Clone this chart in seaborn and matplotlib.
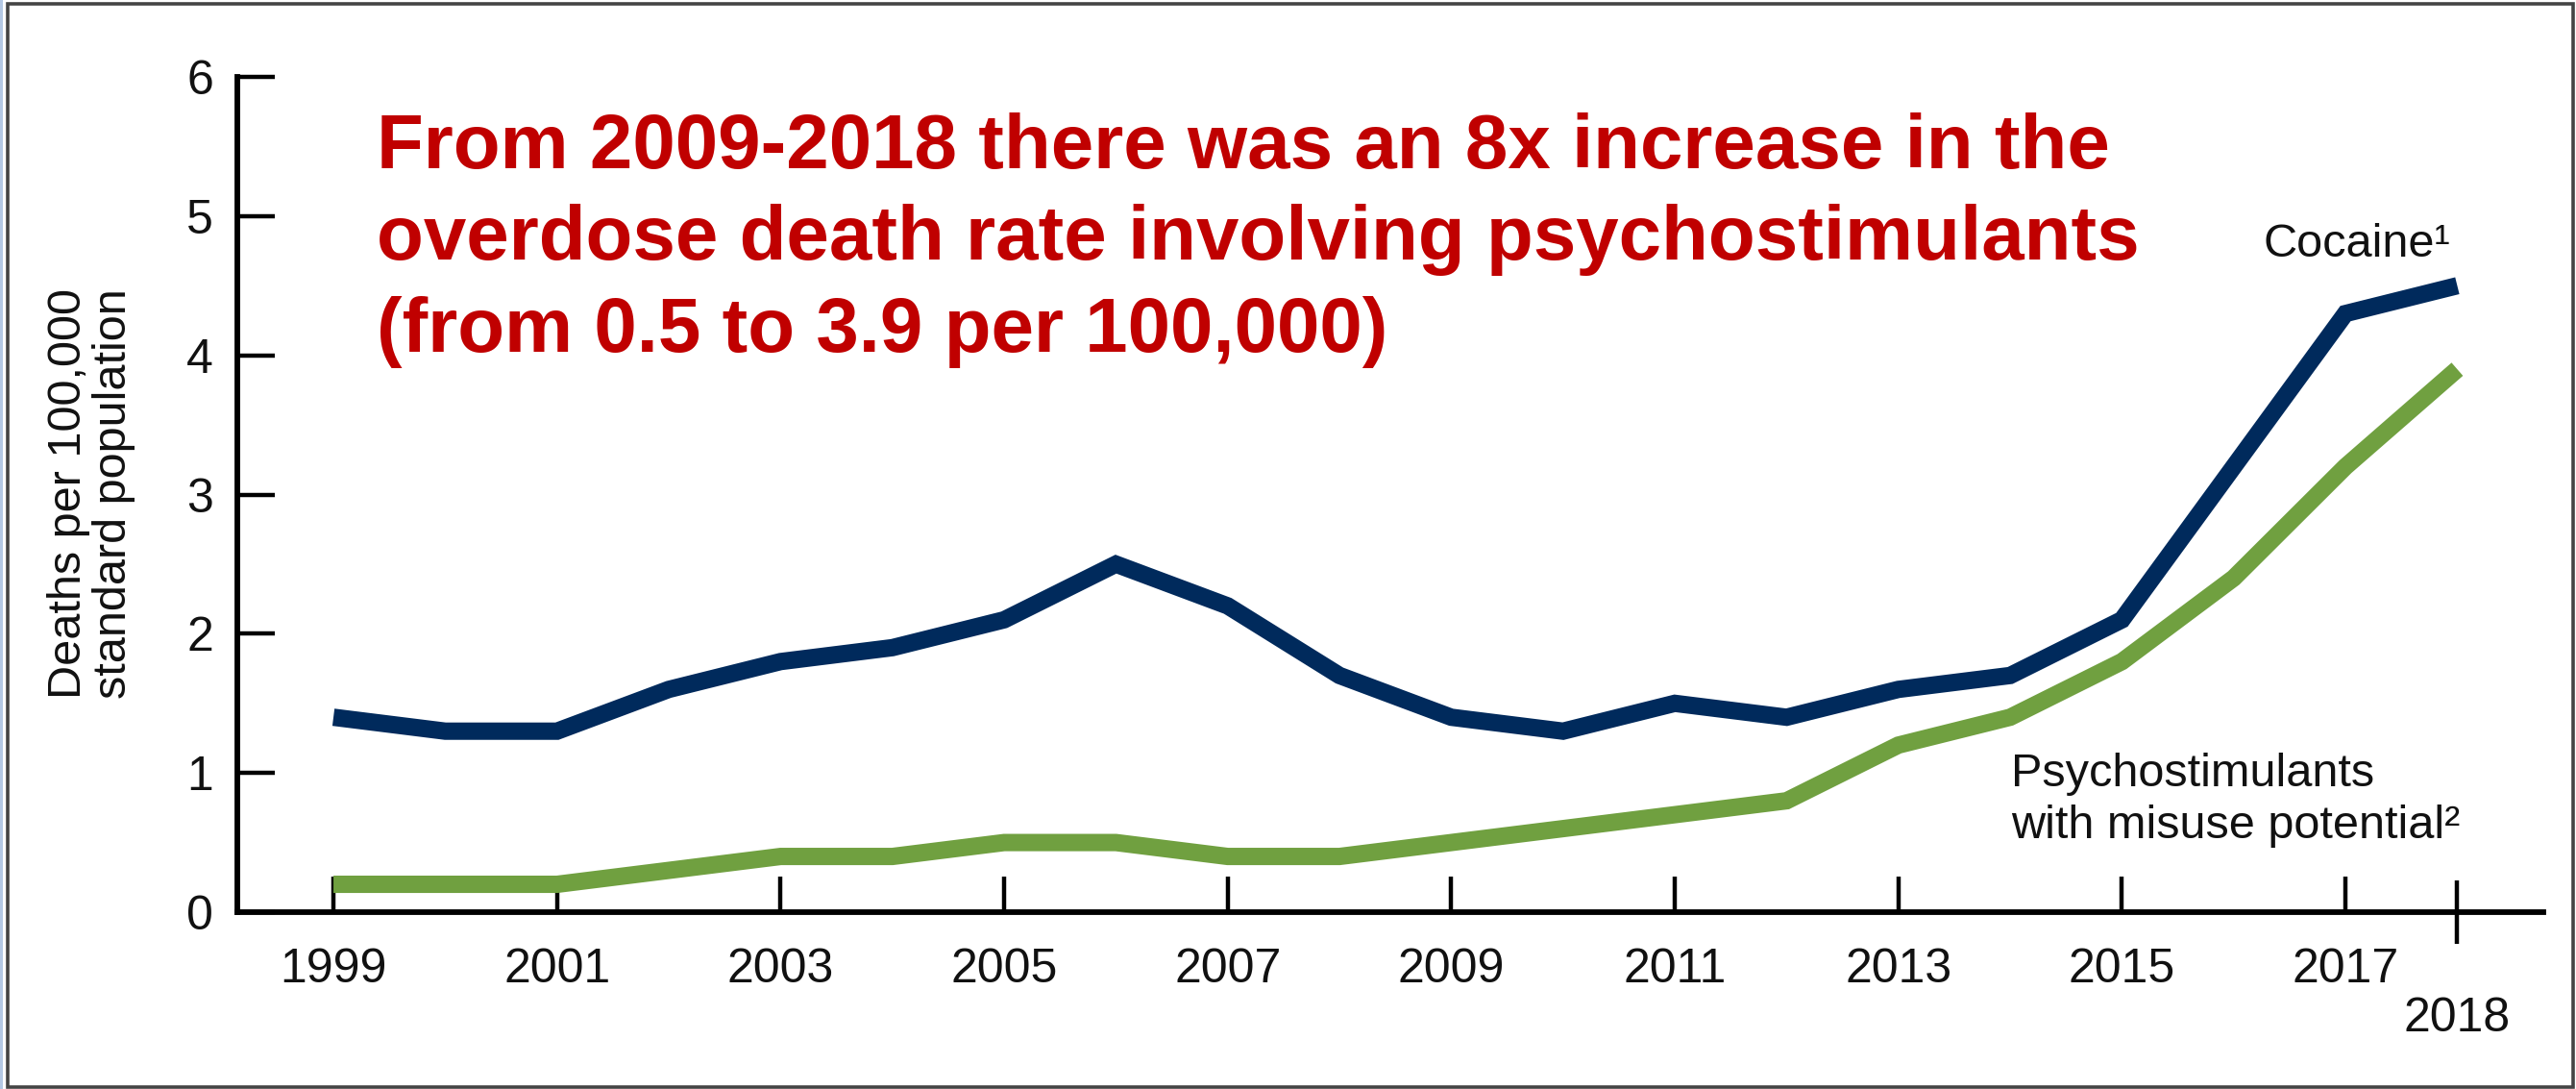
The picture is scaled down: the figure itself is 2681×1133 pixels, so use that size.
import matplotlib
matplotlib.use("Agg")
import matplotlib.pyplot as plt
import pandas as pd
import seaborn as sns
from matplotlib.patches import Rectangle

# Age-adjusted overdose death rates, deaths per 100,000 standard population
years = list(range(1999, 2019))
cocaine = [1.4, 1.3, 1.3, 1.6, 1.8, 1.9, 2.1, 2.5, 2.2, 1.7,
           1.4, 1.3, 1.5, 1.4, 1.6, 1.7, 2.1, 3.2, 4.3, 4.5]
psychostimulants = [0.2, 0.2, 0.2, 0.3, 0.4, 0.4, 0.5, 0.5, 0.4, 0.4,
                    0.5, 0.6, 0.7, 0.8, 1.2, 1.4, 1.8, 2.4, 3.2, 3.9]

series_names = ["Cocaine", "Psychostimulants with misuse potential"]
series_colors = ["#002A5C", "#70A040"]

x_major_ticks = list(range(1999, 2018, 2))
x_end_tick = [2018]
y_ticks = [0, 1, 2, 3, 4, 5, 6]

headline = [
    "From 2009-2018 there was an 8x increase in the",
    "overdose death rate involving psychostimulants",
    "(from 0.5 to 3.9 per 100,000)",
]
y_label = "Deaths per 100,000\nstandard population"
cocaine_label = "Cocaine\u00b9"
psycho_label = ["Psychostimulants", "with misuse potential\u00b2"]

df = pd.DataFrame({
    "year": years * 2,
    "rate": cocaine + psychostimulants,
    "drug": [series_names[0]] * len(years) + [series_names[1]] * len(years),
})

sns.set_style("ticks")
plt.rcParams["font.family"] = ["Liberation Sans", "DejaVu Sans"]

W, H = 2681, 1133
DPI = 100
fig = plt.figure(figsize=(W / DPI, H / DPI), dpi=DPI)
fig.patch.set_facecolor("white")


def fx(px):
    return px / W


def fy(py):
    return 1 - py / H


ax = fig.add_axes([fx(247), fy(949), (2647 - 247) / W, (949 - 80) / H])

sns.lineplot(
    data=df, x="year", y="rate", hue="drug",
    palette=dict(zip(series_names, series_colors)),
    linewidth=13, legend=False, ax=ax,
)
for line in ax.get_lines():
    line.set_solid_capstyle("butt")
    line.set_solid_joinstyle("miter")

ax.set_xlim(1998.14, 2018.77)
ax.set_ylim(0, 6)
ax.set_xlabel("")
ax.set_ylabel("")
ax.set_facecolor("white")

for side in ("top", "right"):
    ax.spines[side].set_visible(False)
for side in ("left", "bottom"):
    ax.spines[side].set_linewidth(4.2)
    ax.spines[side].set_color("black")

ax.set_yticks(y_ticks)
ax.set_yticklabels([str(v) for v in y_ticks])
ax.set_xticks(x_major_ticks)
ax.set_xticklabels([str(v) for v in x_major_ticks])
ax.set_xticks(x_end_tick, minor=True)
ax.set_xticklabels([str(v) for v in x_end_tick], minor=True)

ax.tick_params(axis="y", which="major", direction="in", length=28, width=3.2,
               labelsize=36, pad=18, colors="black")
ax.tick_params(axis="x", which="major", direction="in", length=27, width=3.2,
               labelsize=36, pad=27, colors="black")
ax.tick_params(axis="x", which="minor", direction="inout", length=47, width=3.2,
               labelsize=36, pad=40, colors="black")
for lab in ax.get_xticklabels() + ax.get_xticklabels(minor=True) + ax.get_yticklabels():
    lab.set_color("#111111")

# headline in red
title_baselines = [175, 270, 366]
for txt, yb in zip(headline, title_baselines):
    fig.text(fx(392), fy(yb), txt, color="#C00000", fontsize=57.5,
             fontweight="bold", ha="left", va="baseline")

# axis title
fig.text(fx(95), fy(514), y_label, rotation=90, ha="center", va="center",
         fontsize=35, linespacing=1.05, multialignment="center", color="#111111")

# series labels
fig.text(fx(2355), fy(267), cocaine_label, fontsize=35, ha="left",
         va="baseline", color="#111111")
for txt, yb in zip(psycho_label, [818, 872]):
    fig.text(fx(2093), fy(yb), txt, fontsize=35, ha="left", va="baseline",
             color="#111111")

# frame around the figure, with a thin light-blue strip along the left edge
fig.add_artist(Rectangle((0, 0), fx(3), 1, transform=fig.transFigure,
                         facecolor="#B4C8E4", edgecolor="none"))
fig.add_artist(Rectangle((fx(8), fy(1131)), (2678 - 8) / W, (1131 - 4) / H,
                         transform=fig.transFigure, fill=False,
                         edgecolor="#444444", linewidth=2.6))

fig.savefig("out.png", dpi=DPI, facecolor="white")
